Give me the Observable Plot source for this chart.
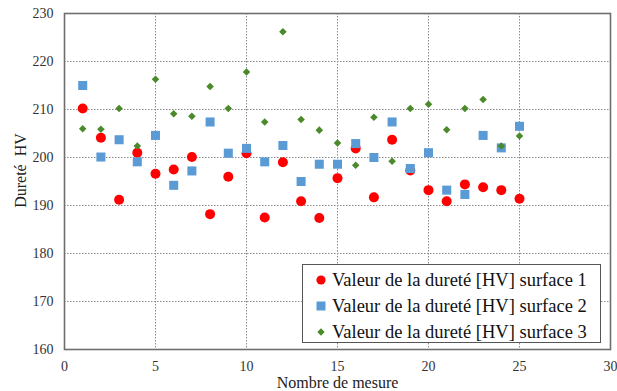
<!DOCTYPE html>
<html>
<head>
<meta charset="utf-8">
<script src="https://cdn.jsdelivr.net/npm/d3@7"></script>
<script src="https://cdn.jsdelivr.net/npm/@observablehq/plot@0.6"></script>
<style>
  html, body { margin: 0; padding: 0; background: #fff; }
  #wrap { position: relative; width: 617px; height: 391px; font-family: "Liberation Serif", serif; }
  #legend { position: absolute; left: 302px; top: 264px; width: 299px; height: 79px; box-sizing: border-box;
    border: 1.5px solid #555; background: #fff; font-family: "Liberation Serif", serif; font-size: 18.5px; color: #111; padding-top: 2px; }
  .row { display: flex; align-items: center; height: 26px; }
  .row svg { margin-left: 13px; margin-right: 6px; flex: none; }
  .row span { font-family: "Liberation Serif", serif; white-space: nowrap; }
</style>
</head>
<body>
<div id="wrap"><div id="legend"></div></div>
<script>
const measures = [1,2,3,4,5,6,7,8,9,10,11,12,13,14,15,16,17,18,19,20,21,22,23,24,25];
const surface1 = [210.2,204.1,191.2,201.0,196.6,197.5,200.1,188.2,196.0,200.9,187.5,199.0,190.9,187.4,195.7,201.9,191.7,203.7,197.3,193.2,190.9,194.4,193.8,193.2,191.4];
const surface2 = [215.0,200.1,203.7,199.1,204.6,194.2,197.2,207.4,200.9,201.9,199.1,202.5,195.0,198.6,198.6,202.9,200.0,207.4,197.7,201.0,193.2,192.3,204.6,202.0,206.5];
const surface3 = [206.0,205.9,210.2,202.4,216.3,209.1,208.6,214.8,210.2,217.8,207.4,226.2,207.9,205.7,203.0,198.4,208.4,199.2,210.2,211.1,205.8,210.2,212.1,202.4,204.5];
const seriesNames = ["Valeur de la dureté [HV] surface 1","Valeur de la dureté [HV] surface 2","Valeur de la dureté [HV] surface 3"];
const xTicks = [0,5,10,15,20,25,30];
const yTicks = [160,170,180,190,200,210,220,230];

const colors = ["#ff0000", "#5b9bd5", "#4b8a2a"];
const symbols = ["circle", "square", "diamond2"];
const radii = [5, 5.1, 3.4];
const allSeries = [surface1, surface2, surface3];

const dotMarks = allSeries.map((vals, i) =>
  Plot.dot(measures.map((m, j) => ({x: m, y: vals[j]})), {
    x: "x", y: "y", symbol: () => symbols[i], fill: colors[i], r: radii[i], stroke: "none"
  })
);

const chart = Plot.plot({
  width: 617,
  height: 391,
  marginLeft: 64,
  marginRight: 7,
  marginTop: 13,
  marginBottom: 42,
  style: { fontFamily: "'Liberation Serif', serif", background: "#fff", overflow: "visible" },
  x: { domain: [0, 30] },
  y: { domain: [160, 230] },
  symbol: { type: "identity" },
  marks: [
    Plot.gridX(xTicks, { stroke: "#8a8a8a", strokeOpacity: 1, strokeDasharray: "1.5,1.5", strokeWidth: 1 }),
    Plot.gridY(yTicks, { stroke: "#8a8a8a", strokeOpacity: 1, strokeDasharray: "1.5,1.5", strokeWidth: 1 }),
    Plot.frame({ stroke: "#6e6e6e", strokeWidth: 1.6 }),
    Plot.axisX(xTicks, { tickSize: 0, tickPadding: 12, fontSize: 14, fill: "#333", label: null }),
    Plot.axisY(yTicks, { tickSize: 0, tickPadding: 11, fontSize: 14, fill: "#333", label: null }),
    Plot.text(["Nombre de mesure"], { frameAnchor: "bottom", lineAnchor: "middle", textAnchor: "middle", dy: 33, fontSize: 16, fill: "#222" }),
    Plot.text(["Dureté  HV"], { frameAnchor: "left", lineAnchor: "middle", textAnchor: "middle", dx: -44, dy: -11, rotate: -90, fontSize: 16, fill: "#222" }),
    ...dotMarks
  ]
});
document.getElementById("wrap").prepend(chart);

const legend = document.getElementById("legend");
const symPaths = [
  '<circle cx="5" cy="5" r="4.6" fill="' + colors[0] + '"/>',
  '<rect x="0.5" y="0.5" width="9" height="9" fill="' + colors[1] + '"/>',
  '<path d="M5 1.3 L8.7 5 L5 8.7 L1.3 5 Z" fill="' + colors[2] + '"/>'
];
seriesNames.forEach((name, i) => {
  const row = document.createElement("div");
  row.className = "row";
  row.innerHTML = '<svg width="10" height="10" viewBox="0 0 10 10">' + symPaths[i] + '</svg><span>' + name + '</span>';
  legend.appendChild(row);
});
</script>
</body>
</html>
